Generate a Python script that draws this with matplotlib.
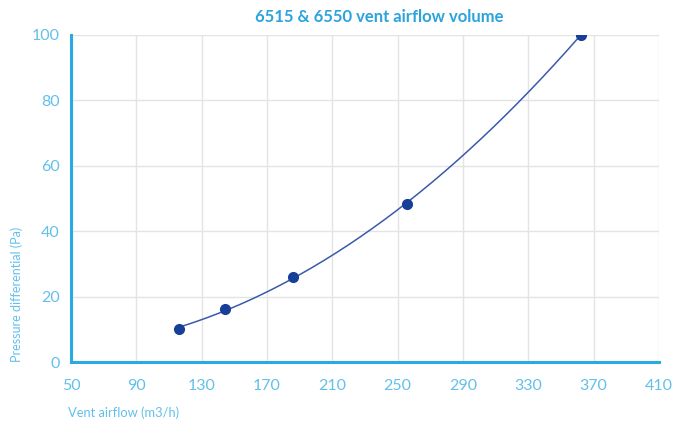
import numpy as np
import matplotlib.pyplot as plt

# measured vent airflow vs pressure differential
airflow = [116, 144, 186, 256, 362]      # m3/h
pressure = [10.1, 16.2, 26.0, 48.3, 100]  # Pa

xticks = [50, 90, 130, 170, 210, 250, 290, 330, 370, 410]
yticks = [0, 20, 40, 60, 80, 100]

blue = '#29abe2'
label_blue = '#62c0ea'
navy = '#173f98'

plt.rcParams['font.family'] = ['Lato', 'DejaVu Sans']

fig = plt.figure(figsize=(6.86, 4.25), dpi=100)
ax = fig.add_axes([0.1035, 0.148, 0.857, 0.77])

# quadratic trend line through the measurements
coef = np.polyfit(airflow, pressure, 2)
xs = np.linspace(min(airflow), max(airflow), 200)
ax.plot(xs, np.polyval(coef, xs), color='#3a5aab', lw=1.1, zorder=3)
ax.plot(airflow, pressure, 'o', color=navy, ms=7, zorder=4)

ax.set_xlim(50, 410)
ax.set_ylim(0, 100)
ax.set_xticks(xticks)
ax.set_yticks(yticks)
ax.grid(True, color='#e4e4e4', lw=1)
ax.set_axisbelow(True)

for s in ['top', 'right']:
    ax.spines[s].set_visible(False)
for s in ['left', 'bottom']:
    ax.spines[s].set_color(blue)
    ax.spines[s].set_linewidth(2.2)

ax.tick_params(length=0, labelsize=11.5, labelcolor=label_blue)
ax.tick_params(axis='x', pad=12)
ax.tick_params(axis='y', pad=8)

fig.text(0.553, 0.96, '6515 & 6550 vent airflow volume', ha='center', va='center',
         color='#2ba3dc', fontsize=12, fontweight='bold')
fig.text(0.099, 0.014, 'Vent airflow (m3/h)', ha='left', va='bottom',
         color=label_blue, fontsize=9.3)
fig.text(0.025, 0.148, 'Pressure differential (Pa)', ha='center', va='bottom',
         rotation=90, color=label_blue, fontsize=9)

fig.savefig('out.png', dpi=100)
